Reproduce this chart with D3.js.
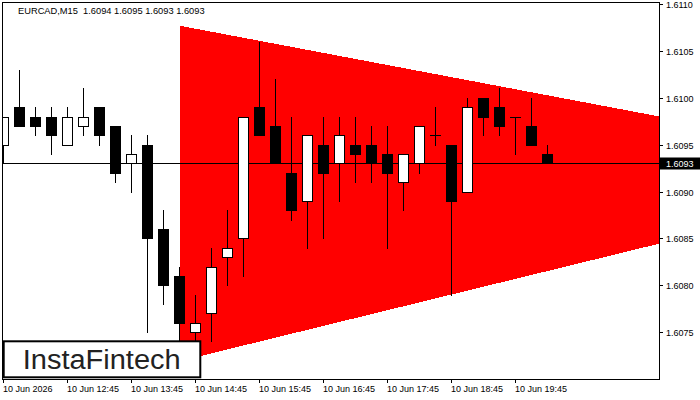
<!DOCTYPE html>
<html><head><meta charset="utf-8">
<script src="https://cdn.jsdelivr.net/npm/d3@7"></script>
<style>
body{margin:0;background:#fff}
svg{display:block}
text{font-family:"Liberation Sans",Arial,sans-serif}
</style>
</head><body>
<svg id="c" width="700" height="400"></svg>
<script>
const symbol = "EURCAD,M15";
const times = ["11:45","12:00","12:15","12:30","12:45","13:00","13:15","13:30","13:45","14:00",
  "14:15","14:30","14:45","15:00","15:15","15:30","15:45","16:00","16:15","16:30",
  "16:45","17:00","17:15","17:30","17:45","18:00","18:15","18:30","18:45","19:00",
  "19:15","19:30","19:45","20:00","20:15"];
const open  = [1.6095,1.6099,1.6098,1.6098,1.6095,1.6097,1.6099,1.6097,1.6093,1.6095,
  1.6086,1.6081,1.6075,1.6077,1.6083,1.6085,1.6099,1.6097,1.6092,1.6089,
  1.6095,1.6093,1.6095,1.6095,1.6094,1.6091,1.6093,1.6096,1.6095,1.6090,
  1.6100,1.6099,1.6098,1.6097,1.6094];
const high  = [1.6098,1.6103,1.6099,1.6099,1.6099,1.6101,1.6099,1.6097,1.6096,1.6096,
  1.6088,1.6082,1.6079,1.6084,1.6088,1.6098,1.6106,1.6102,1.6098,1.6096,
  1.6098,1.6098,1.6098,1.6097,1.6097,1.6094,1.6097,1.6099,1.6095,1.6100,
  1.6100,1.6101,1.6098,1.6100,1.6095];
const low   = [1.6093,1.6097,1.6096,1.6094,1.6095,1.6096,1.6095,1.6091,1.6090,1.6075,
  1.6078,1.6074,1.6074,1.6074,1.6080,1.6081,1.6096,1.6093,1.6087,1.6084,
  1.6085,1.6089,1.6091,1.6091,1.6084,1.6088,1.6092,1.6095,1.6079,1.6090,
  1.6096,1.6096,1.6094,1.6095,1.6093];
const close = [1.6098,1.6097,1.6097,1.6096,1.6098,1.6098,1.6096,1.6092,1.6094,1.6085,
  1.6080,1.6076,1.6076,1.6082,1.6084,1.6098,1.6096,1.6093,1.6088,1.6096,
  1.6092,1.6096,1.6094,1.6093,1.6092,1.6094,1.6097,1.6096,1.6089,1.6099,
  1.6098,1.6097,1.6098,1.6095,1.6093];
const headerValues = ["1.6094","1.6095","1.6093","1.6093"];
const xTickIndex = [0,4,8,12,16,20,24,28,32];
const xTickLabels = ["10 Jun 2026","10 Jun 12:45","10 Jun 13:45","10 Jun 14:45","10 Jun 15:45",
  "10 Jun 16:45","10 Jun 17:45","10 Jun 18:45","10 Jun 19:45"];
const yTicks = [1.6075,1.6080,1.6085,1.6090,1.6095,1.6100,1.6105,1.6110];
const triIndex = [11, 11, 59.3];
const triPrice = [1.61077, 1.60719, 1.60921];
const currentPrice = 1.6093;
const logoText = "InstaFintech";

const svg = d3.select("#c");
const L = 2.5, T = 2.5, R = 659.5, B = 379;
const x = d3.scaleLinear().domain([0, 41]).range([3.5, 659.5]);
const y = d3.scaleLinear().domain([1.6075, 1.6110]).range([332.1, 4.15]);
const ry = v => Math.round(y(v));

svg.append("rect").attr("width",700).attr("height",400).attr("fill","#fff");

svg.append("defs").append("clipPath").attr("id","plot")
  .append("rect").attr("x",3).attr("y",3).attr("width",R-3).attr("height",B-3);

const g = svg.append("g").attr("clip-path","url(#plot)");

// triangle
g.append("path")
  .attr("d", d3.line()(triIndex.map((d,i)=>[x(d), y(triPrice[i])])) + "Z")
  .attr("fill","#ff0000").attr("shape-rendering","crispEdges");

// current price line
g.append("line").attr("x1",L).attr("x2",R)
  .attr("y1",ry(currentPrice)+0.5).attr("y2",ry(currentPrice)+0.5)
  .attr("stroke","#000").attr("stroke-width",1).attr("shape-rendering","crispEdges");

// candles
const idx = d3.range(times.length);
const cg = g.append("g").attr("shape-rendering","crispEdges");
cg.selectAll("line.w").data(idx).join("line").attr("class","w")
  .attr("x1",i=>x(i)).attr("x2",i=>x(i))
  .attr("y1",i=>ry(high[i])).attr("y2",i=>ry(low[i])+1)
  .attr("stroke","#000").attr("stroke-width",1);
cg.selectAll("rect.b").data(idx.filter(i=>open[i]!==close[i])).join("rect").attr("class","b")
  .attr("x",i=>x(i)-5).attr("width",10)
  .attr("y",i=>ry(Math.max(open[i],close[i]))+0.5)
  .attr("height",i=>ry(Math.min(open[i],close[i]))-ry(Math.max(open[i],close[i])))
  .attr("fill",i=>close[i]>open[i]?"#fff":"#000")
  .attr("stroke","#000").attr("stroke-width",1);
cg.selectAll("line.d").data(idx.filter(i=>open[i]===close[i])).join("line").attr("class","d")
  .attr("x1",i=>x(i)-5.5).attr("x2",i=>x(i)+5.5)
  .attr("y1",i=>ry(open[i])+0.5).attr("y2",i=>ry(open[i])+0.5)
  .attr("stroke","#000").attr("stroke-width",1);

// frame
svg.append("rect").attr("x",L).attr("y",T).attr("width",R-L).attr("height",B-T+0.5)
  .attr("fill","none").attr("stroke","#000").attr("stroke-width",1).attr("shape-rendering","crispEdges");

// y axis
const yAxis = svg.append("g");
yAxis.selectAll("line").data(yTicks).join("line")
  .attr("x1",R).attr("x2",R+3).attr("y1",d=>ry(d)+0.5).attr("y2",d=>ry(d)+0.5)
  .attr("stroke","#000").attr("shape-rendering","crispEdges");
yAxis.selectAll("text").data(yTicks).join("text")
  .attr("x",666).attr("y",d=>ry(d)+3.8).attr("font-size",9).attr("fill","#000")
  .text(d=>d3.format(".4f")(d));

// current price label
svg.append("rect").attr("x",660).attr("y",157.5).attr("width",40).attr("height",12).attr("fill","#000");
svg.append("text").attr("x",666).attr("y",ry(currentPrice)+3.8).attr("font-size",9).attr("fill","#fff")
  .text(d3.format(".4f")(currentPrice));

// x axis
const xAxis = svg.append("g");
xAxis.selectAll("line").data(xTickIndex).join("line")
  .attr("x1",i=>x(i)).attr("x2",i=>x(i)).attr("y1",B).attr("y2",B+4)
  .attr("stroke","#000").attr("shape-rendering","crispEdges");
xAxis.selectAll("text").data(xTickIndex).join("text")
  .attr("x",i=>x(i)-0.5).attr("y",392).attr("font-size",9).attr("fill","#000")
  .text((i,k)=>xTickLabels[k]);

// header
svg.append("text").attr("x",18).attr("y",14).attr("font-size",9.3).attr("fill","#000")
  .attr("xml:space","preserve")
  .text(symbol + "  " + headerValues.join(" "));

// logo
svg.append("rect").attr("x",3.7).attr("y",341.3).attr("width",196.6).attr("height",36)
  .attr("fill","#fff").attr("stroke","#000").attr("stroke-width",2);
svg.append("text").attr("x",22.7).attr("y",369).attr("font-size",27)
  .attr("font-family","Roboto, 'Liberation Sans', sans-serif")
  .attr("textLength",158).attr("lengthAdjust","spacingAndGlyphs")
  .attr("fill","#222").text(logoText);
</script>
</body></html>
